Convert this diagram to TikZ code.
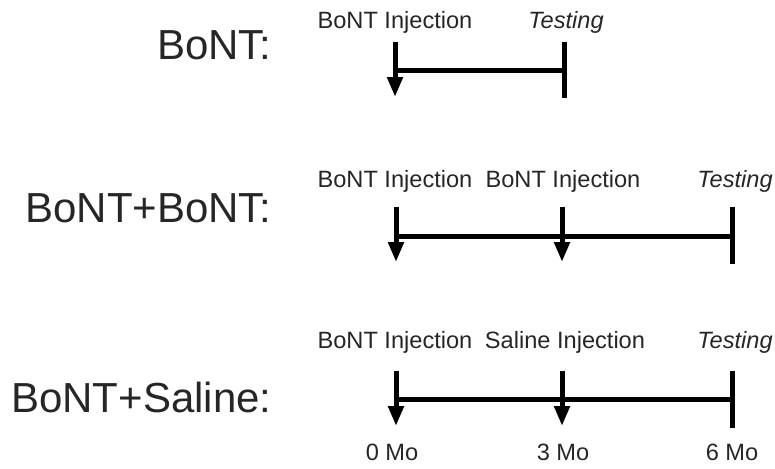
\documentclass[tikz,border=0pt]{standalone}
\usepackage{fontspec}
\setmainfont{Liberation Sans}
\usetikzlibrary{arrows.meta}

\begin{document}
\begin{tikzpicture}[
            x=0.5pt, y=-0.5pt,
            group/.style={anchor=base east, inner sep=0pt, text=black!85, font=\fontsize{21}{25}\selectfont},
            event/.style={anchor=base, inner sep=0pt, text=black!85, font=\fontsize{11.8}{14}\selectfont},
            inject/.style={line width=2.5pt, -{Triangle[length=10pt, width=7.5pt]}},
            bar/.style={line width=2.5pt},
        ]
        \useasboundingbox (0, 0) rectangle (775, 468);

        % BoNT
        \node[group] (g1) at (272, 59) {BoNT:};
        \node[event] (e11) at (395, 28) {BoNT Injection};
        \node[event] (e12) at (566, 28) {\itshape Testing};
        \coordinate (s11) at (395, 42);
        \coordinate (t11) at (395, 97);
        \coordinate (s12) at (564, 42);
        \coordinate (t12) at (564, 98);
        \coordinate (h11) at (395, 70);
        \coordinate (h12) at (564, 70);
        \draw[bar] (h11) -- (h12);
        \draw[inject] (s11) -- (t11);
        \draw[bar] (s12) -- (t12);

        % BoNT+BoNT
        \node[group] (g2) at (272, 222) {BoNT+BoNT:};
        \node[event] (e21) at (395, 187) {BoNT Injection};
        \node[event] (e22) at (563, 187) {BoNT Injection};
        \node[event] (e23) at (735, 187) {\itshape Testing};
        \coordinate (s21) at (396, 207);
        \coordinate (t21) at (396, 262);
        \coordinate (s22) at (562, 207);
        \coordinate (t22) at (562, 262);
        \coordinate (s23) at (732, 207);
        \coordinate (t23) at (732, 264);
        \coordinate (h21) at (396, 236);
        \coordinate (h23) at (732, 236);
        \draw[bar] (h21) -- (h23);
        \draw[inject] (s21) -- (t21);
        \draw[inject] (s22) -- (t22);
        \draw[bar] (s23) -- (t23);

        % BoNT+Saline
        \node[group] (g3) at (272, 412) {BoNT+Saline:};
        \node[event] (e31) at (395, 348) {BoNT Injection};
        \node[event] (e32) at (565, 348) {Saline Injection};
        \node[event] (e33) at (735, 348) {\itshape Testing};
        \coordinate (s31) at (396, 371);
        \coordinate (t31) at (396, 426);
        \coordinate (s32) at (562, 371);
        \coordinate (t32) at (562, 426);
        \coordinate (s33) at (732, 371);
        \coordinate (t33) at (732, 428);
        \coordinate (h31) at (396, 399);
        \coordinate (h33) at (732, 399);
        \draw[bar] (h31) -- (h33);
        \draw[inject] (s31) -- (t31);
        \draw[inject] (s32) -- (t32);
        \draw[bar] (s33) -- (t33);

        \node[event] (m0) at (392, 460) {0 Mo};
        \node[event] (m3) at (563, 460) {3 Mo};
        \node[event] (m6) at (732, 460) {6 Mo};
    \end{tikzpicture}
\end{document}
